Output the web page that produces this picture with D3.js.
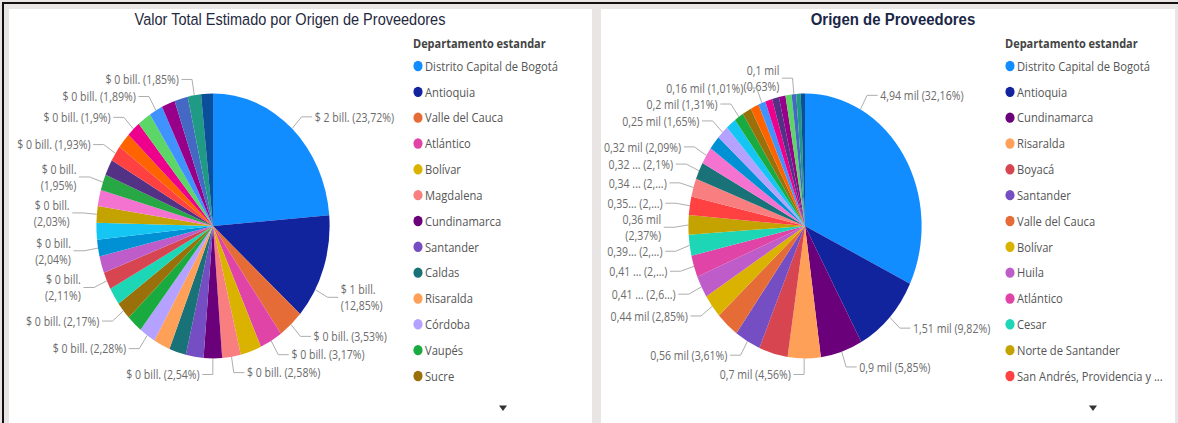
<!DOCTYPE html>
<html><head><meta charset="utf-8">
<script src="https://cdn.jsdelivr.net/npm/d3@7"></script>
<style>html,body{margin:0;padding:0;background:#fff;overflow:hidden}</style>
</head><body>
<svg id="c" width="1178" height="423"></svg>
<script>
// ---------------- DATA ----------------
const titleValor = "Valor Total Estimado por Origen de Proveedores";
const titleOrigen = "Origen de Proveedores";
const legendTitle = "Departamento estandar";

// Left chart: estimated total value, billions (COP)
const valorDepartamentos = [
  "Distrito Capital de Bogotá","Antioquia","Valle del Cauca","Atlántico","Bolívar",
  "Magdalena","Cundinamarca","Santander","Caldas","Risaralda","Córdoba","Vaupés","Sucre",
  "Cesar","Boyacá","Huila","Nariño","Tolima","Norte de Santander","Meta","Quindío","Cauca",
  "San Andrés, Providencia y Santa Catalina","La Guajira","Casanare","Guaviare","Caquetá",
  "Chocó","Arauca","Putumayo","Amazonas"];
const valorBillones = [
  1.8976,1.028,0.2824,0.2536,0.232,0.2064,0.2032,0.196,0.1888,0.184,0.1824,0.1744,0.1736,
  0.1696,0.1688,0.164,0.1632,0.1632,0.1624,0.1568,0.156,0.1552,0.1544,0.1528,0.152,0.152,
  0.1512,0.1488,0.148,0.148,0.1312];

// Right chart: number of suppliers
const origenDepartamentos = [
  "Distrito Capital de Bogotá","Antioquia","Cundinamarca","Risaralda","Boyacá","Santander",
  "Valle del Cauca","Bolívar","Huila","Atlántico","Cesar","Norte de Santander",
  "San Andrés, Providencia y Santa Catalina","Magdalena","Caldas","Meta","Nariño","Córdoba",
  "Tolima","Vaupés","Sucre","La Guajira","Caquetá","Casanare","Cauca","Chocó","Guaviare",
  "Arauca","Putumayo","Amazonas"];
const origenProveedores = [
  4940,1508,899,700,616,555,492,438,412,407,390,364,350,339,323,321,261,253,218,201,192,177,
  155,150,146,141,130,97,95,90];

// ---------------- STYLE ----------------
const colorByDept = {
  "Distrito Capital de Bogotá":"#118DFF","Antioquia":"#12239E","Valle del Cauca":"#E66C37",
  "Atlántico":"#E044A7","Bolívar":"#D9B300","Magdalena":"#F87E80","Cundinamarca":"#6B007B",
  "Santander":"#744EC2","Caldas":"#197278","Risaralda":"#FFA058","Córdoba":"#B5A1FF",
  "Vaupés":"#1AAB40","Sucre":"#99700A","Cesar":"#1CD6B6","Boyacá":"#D64550","Huila":"#BE5DC9",
  "Nariño":"#0091D5","Tolima":"#15C6F4","Norte de Santander":"#C4A200","Meta":"#F472D0",
  "Quindío":"#27A844","Cauca":"#533285","San Andrés, Providencia y Santa Catalina":"#FF4141",
  "La Guajira":"#FF6300","Casanare":"#EC008C","Guaviare":"#5BD667","Caquetá":"#4092FF",
  "Chocó":"#99008A","Arauca":"#4668C5","Putumayo":"#1F9A85","Amazonas":"#0B4F9A"};

const K = 0.88;               // horizontal squeeze of the reference
const W = 1178 / K, H = 423;
const ux = x => x / K;

const svg = d3.select("#c").attr("viewBox", `0 0 ${W} ${H}`).attr("preserveAspectRatio", "none");

// background & panels
svg.append("rect").attr("width", W).attr("height", H).attr("fill", "#e9e5e5");
svg.append("rect").attr("x", ux(2)).attr("y", 2).attr("width", W).attr("height", 2).attr("fill", "#111");
svg.append("rect").attr("x", ux(2)).attr("y", 2).attr("width", ux(2)).attr("height", H).attr("fill", "#111");
svg.append("rect").attr("x", ux(9)).attr("y", 9).attr("width", ux(592 - 9)).attr("height", H).attr("fill", "#fff");
svg.append("rect").attr("x", ux(601)).attr("y", 9).attr("width", ux(1175 - 601)).attr("height", H).attr("fill", "#fff");

const fmtPct = p => (Math.round(p * 100) / 100).toString().replace(".", ",");

function fitText(sel, text, maxW) {
  sel.text(text);
  if (sel.node().getComputedTextLength() <= maxW) return;
  let t = text;
  while (t.length > 1) {
    t = t.slice(0, -1);
    sel.text(t + "...");
    if (sel.node().getComputedTextLength() <= maxW) return;
  }
}

function drawChart(cfg) {
  const g = svg.append("g");
  const data = cfg.names.map((n, i) => ({ name: n, value: cfg.values[i], i }));
  const total = d3.sum(cfg.values);
  const pie = d3.pie().sort(null).value(d => d.value);
  const arcs = pie(data);
  const R = 132.5;
  const arc = d3.arc().innerRadius(0).outerRadius(R);
  const pg = g.append("g").attr("transform", `translate(${cfg.cx},${cfg.cy})`);
  pg.selectAll("path").data(arcs).join("path")
    .attr("d", arc).attr("fill", d => colorByDept[d.data.name]);

  // title
  g.append("text").attr("x", cfg.titleX).attr("y", 25).attr("text-anchor", "middle")
    .attr("font-family", "Liberation Sans, Arial, sans-serif").attr("font-size", cfg.titleSize)
    .attr("font-weight", cfg.titleWeight).attr("fill", cfg.titleColor).text(cfg.title);

  // legend
  const lg = g.append("g");
  lg.append("text").attr("x", cfg.legendX).attr("y", 48)
    .attr("font-family", "Open Sans, sans-serif").attr("font-size", 12.5).attr("font-weight", 700)
    .attr("fill", "#444").text(legendTitle);
  data.slice(0, 13).forEach((d, k) => {
    const y = 66 + k * 25.83;
    lg.append("circle").attr("cx", cfg.legendX + ux(5)).attr("cy", y).attr("r", 5.2)
      .attr("fill", colorByDept[d.name]);
    const t = lg.append("text").attr("x", cfg.legendX + ux(12)).attr("y", y)
      .attr("dominant-baseline", "central")
      .attr("font-family", "Open Sans, sans-serif").attr("font-size", 12.7).attr("fill", "#555");
    fitText(t, d.name, cfg.legendMaxW);
  });
  lg.append("path").attr("transform", `translate(${cfg.arrowX},408)`)
    .attr("d", `M${-ux(4)},-2.5L${ux(4)},-2.5L0,3Z`).attr("fill", "#333");

  // data labels
  const lineH = 16, ext = 16, hlen = 12;
  const labels = cfg.labeled.map(i => {
    const a = arcs[i];
    const f = cfg.anchorFrac[i] !== undefined ? cfg.anchorFrac[i] : 0.5;
    const m = a.startAngle + (a.endAngle - a.startAngle) * f;
    const s = Math.sin(m), c = -Math.cos(m);
    const side = s >= 0 ? 1 : -1;
    const valStr = cfg.fmtValue(a.data.value);
    const pctStr = fmtPct(a.data.value / total * 100);
    let lines;
    if (cfg.trunc[i]) {
      const [nv, np] = cfg.trunc[i];
      const v = nv ? valStr.slice(0, nv) + "..." : valStr;
      const p = np ? pctStr.slice(0, np) + "..." : pctStr + "%";
      lines = [`${v} (${p})`];
    } else if (cfg.wrap.includes(i)) {
      lines = [valStr, `(${pctStr}%)`];
    } else {
      lines = [`${valStr} (${pctStr}%)`];
    }
    return {
      i, side, lines,
      ax: cfg.cx + R * s, ay: cfg.cy + R * c,
      ex: cfg.cx + (R + ext) * s, ey: cfg.cy + (R + ext) * c,
      h: lines.length * lineH
    };
  });

  const lgL = g.append("g").attr("font-family", "Open Sans, sans-serif").attr("font-size", 12)
    .attr("fill", "#6b6b6b");
  labels.forEach(l => {
    l.tx = l.ex + l.side * (hlen + 3);
    l.node = lgL.append("text").attr("text-anchor", l.side > 0 ? "start" : "end");
    l.lines.forEach(s => l.node.append("tspan").text(s));
    l.w = d3.max(l.node.selectAll("tspan").nodes(), n => n.getComputedTextLength());
    l.x0 = l.side > 0 ? l.tx : l.tx - l.w;
    l.x1 = l.side > 0 ? l.tx + l.w : l.tx;
    l.y = l.ey;
  });
  [1, -1].forEach(side => {
    const arr = labels.filter(l => l.side === side).sort((a, b) => a.ey - b.ey);
    arr.forEach((l, k) => {
      for (let j = 0; j < k; j++) {
        const o = arr[j];
        if (o.x1 > l.x0 && o.x0 < l.x1) {
          const gap = (o.h + l.h) / 2;
          if (l.y < o.y + gap) l.y = o.y + gap;
        }
      }
    });
  });
  labels.forEach(l => {
    const top = l.y - (l.lines.length - 1) * lineH / 2;
    l.node.selectAll("tspan").attr("x", l.tx).attr("y", (d, k) => top + k * lineH)
      .attr("dominant-baseline", "central");
    lgL.append("path")
      .attr("d", `M${l.ax},${l.ay}L${l.ex},${l.y}L${l.ex + l.side * hlen},${l.y}`)
      .attr("fill", "none").attr("stroke", "#a8a8a8").attr("stroke-width", 1);
  });
}

drawChart({
  names: valorDepartamentos, values: valorBillones,
  cx: ux(213), cy: 226,
  title: titleValor, titleX: ux(290), titleSize: 16.5, titleWeight: 400, titleColor: "#1f2940",
  legendX: ux(413), legendMaxW: ux(175), arrowX: ux(503),
  labeled: [0, 1, 2, 3, 5, 6, 10, 12, 14, 16, 18, 20, 22, 24, 26, 29],
  wrap: [1, 14, 16, 18, 20], trunc: {}, anchorFrac: { 1: 0.72 },
  fmtValue: v => "$ " + Math.round(v) + " bill."
});

drawChart({
  names: origenDepartamentos, values: origenProveedores,
  cx: ux(805), cy: 226,
  title: titleOrigen, titleX: ux(893), titleSize: 17, titleWeight: 700, titleColor: "#1a2747",
  legendX: ux(1005), legendMaxW: ux(146), arrowX: ux(1093),
  labeled: [0, 1, 2, 3, 5, 7, 8, 9, 10, 11, 12, 13, 14, 15, 17, 19, 22, 27],
  wrap: [11, 27], anchorFrac: { 0: 0.245 },
  trunc: { 8: [5, 3], 9: [5, 2], 10: [4, 2], 12: [4, 2], 13: [5, 2], 14: [5, null] },
  fmtValue: v => (Math.round(v / 10) / 100).toString().replace(".", ",") + " mil"
});
</script>
</body></html>
